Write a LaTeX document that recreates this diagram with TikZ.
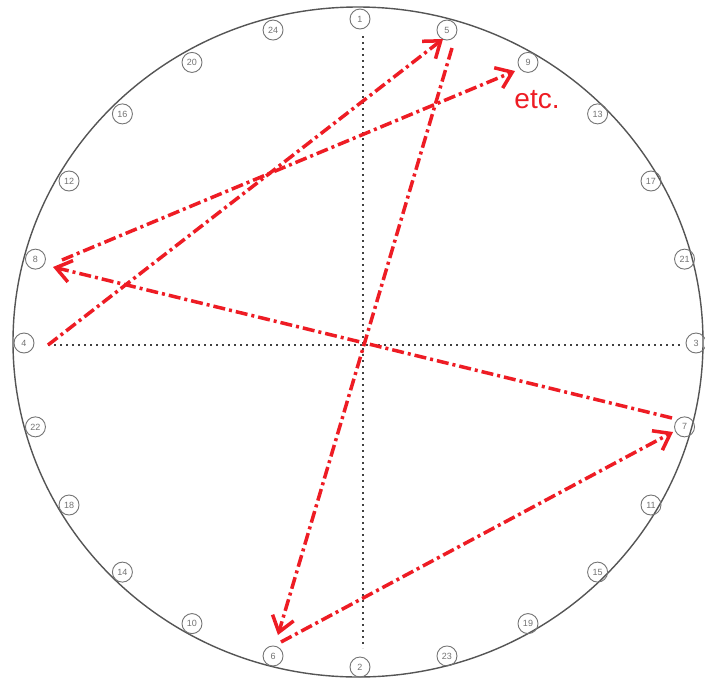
\documentclass[tikz,border=0pt]{standalone}
\usepackage{fontspec}
\setmainfont{Liberation Sans}
\usetikzlibrary{arrows.meta}
\definecolor{arrowred}{RGB}{238,28,36}
\definecolor{rimgray}{RGB}{85,85,85}
\definecolor{labgray}{RGB}{115,115,115}
\begin{document}
\begin{tikzpicture}[x=1pt,y=-1pt,
  rim/.style={draw=rimgray,line width=1.4pt},
  lab/.style={circle,draw=labgray,line width=0.9pt,inner sep=0pt,minimum size=20pt,
              font=\fontsize{9}{9}\selectfont,text=labgray},
  axis/.style={draw=black!75,line width=2.2pt,dash pattern=on 2.2pt off 3.8pt},
  jump/.style={draw=arrowred,line width=3.5pt,dash pattern=on 12pt off 4pt on 3pt off 4pt,
               -{Straight Barb[length=15pt,width=22pt]}},
]
\useasboundingbox (0,0) rectangle (705,681);
\fill[white] (0,0) rectangle (705,681);
\draw[rim] (358,342) ellipse [x radius=345, y radius=335];

\foreach \n [count=\k from 0] in {1,5,9,13,17,21,3,7,11,15,19,23,2,6,10,14,18,22,4,8,12,16,20,24} {
  \node[lab] (L\n) at ({360+336*cos(90-15*\k)},{343-324*sin(90-15*\k)}) {\n};
}

\coordinate (vtop) at (363,36);
\coordinate (vbot) at (363,648);
\coordinate (hl) at (48,345);
\coordinate (hr) at (682,345);
\draw[axis] (vtop) -- (vbot);
\draw[axis] (hl) -- (hr);

\coordinate (s4) at (48,345);
\coordinate (t5) at (443,39);
\coordinate (s5) at (452,48);
\coordinate (t6) at (278,635);
\coordinate (s6) at (281,642);
\coordinate (t7) at (673,432);
\coordinate (s7) at (672,418);
\coordinate (t8) at (53,267);
\coordinate (s8) at (62,260);
\coordinate (t9) at (515,71);

\draw[jump] (s4) -- (t5);
\draw[jump] (s5) -- (t6);
\draw[jump] (s6) -- (t7);
\draw[jump] (s7) -- (t8);
\draw[jump] (s8) -- (t9);

\node[text=arrowred,font=\fontsize{28}{28}\selectfont] (etc) at (537,100) {etc.};
\end{tikzpicture}
\end{document}
